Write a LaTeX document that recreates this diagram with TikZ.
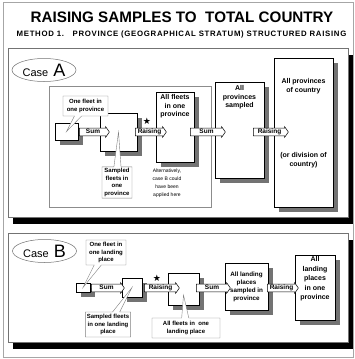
\documentclass[tikz,border=0pt]{standalone}
\usepackage{fontspec}
\setmainfont{Liberation Sans}
\newfontfamily\symfont{DejaVu Sans}
\usetikzlibrary{positioning,shapes.geometric,shapes.arrows,shapes.callouts,shadows}

\tikzset{
  panel/.style={draw=black!55, line width=0.5pt, fill=white, inner sep=0pt,
    drop shadow={shadow xshift=5pt, shadow yshift=-7pt, fill=black, opacity=1}},
  subframe/.style={draw=black!45, line width=0.5pt, inner sep=0pt},
  casetag/.style={ellipse, draw=black!55, line width=0.5pt, inner sep=0pt,
    minimum width=64pt, minimum height=23pt, font=\fontsize{11}{11}\selectfont},
  fbox/.style={draw, line width=0.9pt, fill=white, inner sep=0pt,
    drop shadow={shadow xshift=5pt, shadow yshift=-5pt, fill=black!55, opacity=1}},
  flow/.style={single arrow, draw, fill=white, line width=0.5pt, inner sep=0.6pt,
    single arrow head extend=1.5pt, single arrow tip angle=110,
    font=\bfseries\fontsize{6.5}{6.5}\selectfont, text height=4.6pt, text depth=1.4pt},
  note/.style={rectangle callout, draw=black!50, line width=0.4pt, fill=white,
    inner sep=1.5pt, align=center, font=\bfseries\fontsize{6}{7.6}\selectfont},
  boxtext/.style={align=center, inner sep=0pt, font=\bfseries\fontsize{7}{8.5}\selectfont},
  starmark/.style={font=\symfont\fontsize{9}{9}\selectfont, inner sep=0pt}
}

\begin{document}
\begin{tikzpicture}[x=1pt, y=-1pt]
  \useasboundingbox (0,0) rectangle (355,359);
  \draw[black!35, line width=0.4pt] (3,2) rectangle (353,357);

  % Titles
  \node[font=\bfseries\fontsize{15.2}{16}\selectfont] (title) at (182,17.5) {RAISING SAMPLES TO\ \ TOTAL COUNTRY};
  \node[font=\bfseries\fontsize{7.8}{8}\selectfont\addfontfeature{LetterSpace=9}] (subtitle) at (181.5,34.5)
    {METHOD 1.\ \ \ PROVINCE (GEOGRAPHICAL STRATUM) STRUCTURED RAISING};

  % Panels
  \node[panel, minimum width=340pt, minimum height=169pt] (panelA) at (178,132.5) {};
  \node[panel, minimum width=340pt, minimum height=109pt] (panelB) at (178,287.5) {};
  \node[subframe, minimum width=162pt, minimum height=121pt] (frameA) at (130,146.5) {};

  \node[casetag] (caseA) at (44,70) {Case\hspace{5pt}{\fontsize{18}{18}\selectfont A}};
  \node[casetag] (caseB) at (44.5,251) {Case\hspace{5pt}{\fontsize{18}{18}\selectfont B}};

  % Case A
  \node[fbox, minimum width=23pt, minimum height=17pt] (a1) at (66.5,131.5) {};
  \node[fbox, minimum width=37pt, minimum height=38pt] (a2) at (118.5,132) {};
  \node[fbox, minimum width=38pt, minimum height=70pt] (a3) at (175,127) {};
  \node[fbox, minimum width=49pt, minimum height=96pt] (a4) at (239.5,130) {};
  \node[fbox, minimum width=59pt, minimum height=149pt] (a5) at (303.5,132.5) {};

  \node[flow, minimum height=30pt] (sumA1) at (93,132) {Sum};
  \node[flow, minimum height=31pt] (raiseA1) at (149.5,132) {Raising};
  \node[flow, minimum height=35pt] (sumA2) at (206.5,132) {Sum};
  \node[flow, minimum height=35pt] (raiseA2) at (269.5,132) {Raising};
  \node[starmark] (starA) at (147,121) {★};

  \node[note, minimum width=45pt, minimum height=20pt, callout absolute pointer={(a1.center)}]
    (noteA1) at (85.5,106) {One fleet in\\one province};
  \node[note, minimum width=30pt, minimum height=31pt, callout absolute pointer={(a2.center)}]
    (noteA2) at (117,182.5) {Sampled\\fleets in\\one\\province};

  \node[boxtext, below=3pt of a3.north] (a3text) {All fleets\\in one\\province};
  \node[boxtext, below=4pt of a4.north] (a4text) {All\\provinces\\sampled};
  \node[boxtext, below=21pt of a5.north] (a5text) {All provinces\\of country};
  \node[boxtext, below=95pt of a5.north] (a5extra) {(or division of\\country)};
  \node[align=center, inner sep=0pt, font=\fontsize{5}{8}\selectfont] (altnote) at (167,183)
    {Alternatively,\\case B could\\have been\\applied here};

  % Case B
  \node[fbox, minimum width=14pt, minimum height=9pt] (b1) at (83,287.5) {};
  \node[fbox, minimum width=20pt, minimum height=19pt] (b2) at (132,287.5) {};
  \node[fbox, minimum width=31pt, minimum height=32pt] (b3) at (183.5,289) {};
  \node[fbox, minimum width=43pt, minimum height=47pt] (b4) at (246.5,286.5) {};
  \node[fbox, minimum width=40pt, minimum height=65pt] (b5) at (315,287.5) {};

  \node[flow, minimum height=33pt] (sumB1) at (106.5,288) {Sum};
  \node[flow, minimum height=35pt] (raiseB1) at (160.5,288) {Raising};
  \node[flow, minimum height=34pt] (sumB2) at (212,288) {Sum};
  \node[flow, minimum height=31pt] (raiseB2) at (281.5,288) {Raising};
  \node[starmark] (starB) at (157,278) {★};

  \node[note, minimum width=40pt, minimum height=25pt, callout absolute pointer={(b1.center)}]
    (noteB1) at (106,252.5) {One fleet in\\one landing\\place};
  \node[note, minimum width=40pt, minimum height=25pt, callout absolute pointer={(b2.center)}]
    (noteB2) at (108,324.5) {Sampled fleets\\in one landing\\place};
  \node[note, minimum width=68pt, minimum height=20pt, callout absolute pointer={([yshift=-6pt]b3.center)}]
    (noteB3) at (186,328) {All fleets in\ \ one\\landing place};

  \node[boxtext, font=\bfseries\fontsize{6.3}{8}\selectfont] (b4text) at (b4.center) {All landing\\places\\sampled in\\province};
  \node[boxtext, font=\bfseries\fontsize{7}{9.5}\selectfont, below=2pt of b5.north] (b5text) {All\\landing\\places\\in one\\province};
\end{tikzpicture}
\end{document}
